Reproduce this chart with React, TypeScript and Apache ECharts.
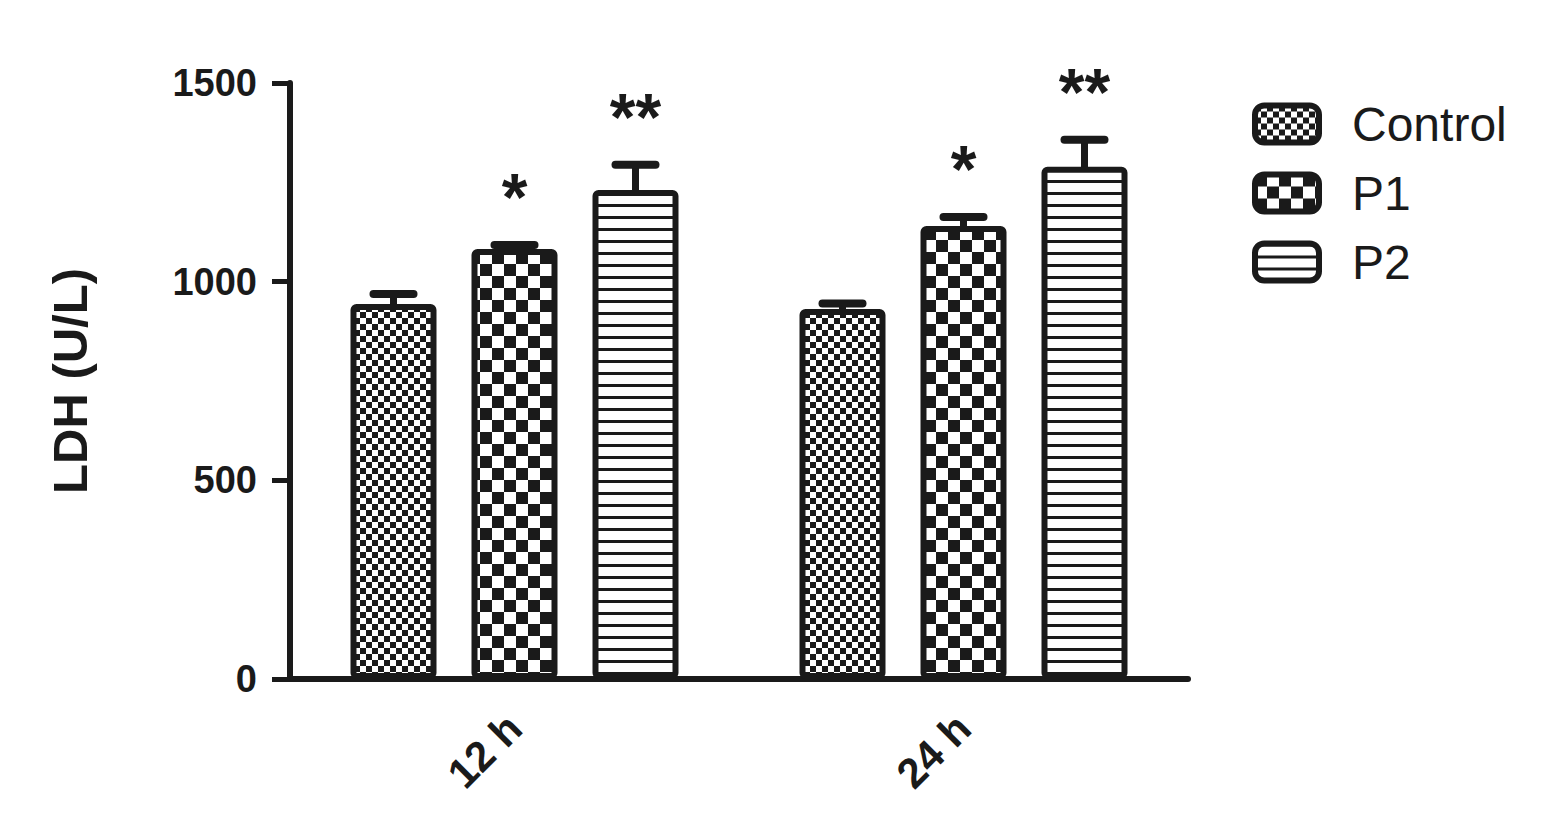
import React, { useEffect, useRef } from "react";
import * as echarts from "echarts";

const categories = ["12 h", "24 h"];
const seriesNames = ["Control", "P1", "P2"];
const controlMean = [944, 931];
const controlErr = [25, 14];
const p1Mean = [1082, 1140];
const p1Err = [10, 23];
const p2Mean = [1231, 1289];
const p2Err = [63, 68];
const controlSig = ["", ""];
const p1Sig = ["*", "*"];
const p2Sig = ["**", "**"];
const yTicks = { min: 0, max: 1500, interval: 500 };

const INK = "#1a1a1a";
const FONT = "'Liberation Sans', Arial, sans-serif";

function makePattern(kind: string) {
  const c = document.createElement("canvas");
  const ctx = c.getContext("2d")!;
  if (kind === "fine") {
    c.width = 12; c.height = 12;
    ctx.fillStyle = "#fff"; ctx.fillRect(0, 0, 12, 12);
    ctx.fillStyle = INK; ctx.fillRect(0, 0, 6, 6); ctx.fillRect(6, 6, 6, 6);
  } else if (kind === "coarse") {
    c.width = 24; c.height = 24;
    ctx.fillStyle = "#fff"; ctx.fillRect(0, 0, 24, 24);
    ctx.fillStyle = INK; ctx.fillRect(0, 0, 12, 12); ctx.fillRect(12, 12, 12, 12);
  } else {
    c.width = 12; c.height = 12;
    ctx.fillStyle = "#fff"; ctx.fillRect(0, 0, 12, 12);
    ctx.fillStyle = INK; ctx.fillRect(0, 0, 12, 3);
  }
  return { image: c, repeat: "repeat", imageWidth: c.width, imageHeight: c.height };
}

export default function App() {
  const ref = useRef<HTMLDivElement>(null);
  useEffect(() => {
    if (!ref.current) return;
    const chart = echarts.init(ref.current, null, { renderer: "svg" });
    const patterns = [makePattern("fine"), makePattern("coarse"), makePattern("stripe")];
    const means = [controlMean, p1Mean, p2Mean];
    const errs = [controlErr, p1Err, p2Err];
    const sigs = [controlSig, p1Sig, p2Sig];
    const barWidth = 86;
    const gapPx = 35;

    const bars = seriesNames.map((name, g) => ({
      name,
      type: "bar",
      data: means[g],
      barWidth,
      barGap: (gapPx / barWidth) * 100 + "%",
      z: 3,
      itemStyle: {
        color: patterns[g],
        borderColor: INK,
        borderWidth: 6,
        borderRadius: 3,
      },
    }));

    const errSeries = seriesNames.map((name, g) => {
      const off = (g - 1) * (barWidth + gapPx);
      return {
        type: "custom",
        z: 2,
        coordinateSystem: "cartesian2d",
        encode: { x: 0, y: 1 },
        data: categories.map((_, i) => [i, means[g][i], errs[g][i]]),
        renderItem: (params: any, api: any) => {
          const i = api.value(0);
          const m = api.value(1);
          const e = api.value(2);
          const b = api.coord([i, m]);
          const t = api.coord([i, m + e]);
          const x = b[0] + off;
          const children: any[] = [
            { type: "line", shape: { x1: x, y1: b[1] + 4, x2: x, y2: t[1] }, style: { stroke: INK, lineWidth: 7 } },
            { type: "line", shape: { x1: x - 20, y1: t[1], x2: x + 20, y2: t[1] }, style: { stroke: INK, lineWidth: 8, lineCap: "round" } },
          ];
          const s = sigs[g][params.dataIndex];
          if (s) {
            children.push({
              type: "text",
              x,
              y: t[1] - 48,
              style: { text: s, fontSize: 66, fontWeight: "bold", fontFamily: FONT, fill: INK, align: "center", verticalAlign: "middle" },
            });
          }
          return { type: "group", children };
        },
      };
    });

    chart.setOption({
      animation: false,
      backgroundColor: "#ffffff",
      grid: { left: 290, right: 362, top: 83, bottom: 160, containLabel: false },
      legend: {
        data: seriesNames,
        orient: "vertical",
        left: 1252,
        top: 100,
        padding: 0,
        itemWidth: 64,
        itemHeight: 37,
        itemGap: 21,
        icon: "roundRect",
        selectedMode: false,
        itemStyle: { borderColor: INK, borderWidth: 6 },
        textStyle: { fontSize: 48, color: INK, fontFamily: FONT, padding: [0, 0, 0, 28] },
      },
      xAxis: {
        type: "category",
        data: categories,
        axisLine: { lineStyle: { color: INK, width: 6 } },
        axisTick: { alignWithLabel: true, length: 14, lineStyle: { color: INK, width: 5 } },
        axisLabel: { rotate: 45, fontSize: 42, fontWeight: "bold", fontFamily: FONT, color: INK, margin: 42 },
      },
      yAxis: {
        type: "value",
        min: yTicks.min,
        max: yTicks.max,
        interval: yTicks.interval,
        splitLine: { show: false },
        axisLine: { show: true, lineStyle: { color: INK, width: 6 } },
        axisTick: { show: true, length: 18, lineStyle: { color: INK, width: 5 } },
        axisLabel: { fontSize: 38, fontWeight: "bold", fontFamily: FONT, color: INK, margin: 33, formatter: (v: number) => String(v) },
        name: "LDH (U/L)",
        nameLocation: "middle",
        nameGap: 196,
        nameTextStyle: { fontSize: 49, fontWeight: "bold", fontFamily: FONT, color: INK },
      },
      series: [...bars, ...errSeries],
    });
    return () => chart.dispose();
  }, []);
  return <div ref={ref} style={{ position: "fixed", left: 0, top: 0, width: 1550, height: 839 }} />;
}
